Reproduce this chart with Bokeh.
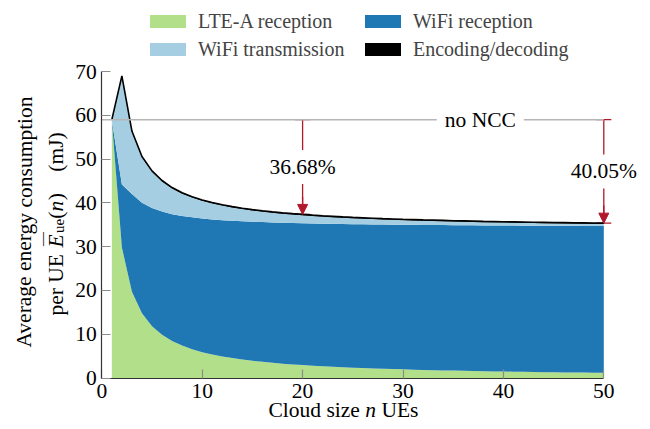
from bokeh.plotting import figure
from bokeh.models import (Range1d, ColumnDataSource, Legend, LegendItem, Label,
                          Whisker, Arrow, NormalHead, TeeHead, FixedTicker)
from bokeh.embed import file_html
from bokeh.resources import INLINE

# ---------------- data ----------------
n = list(range(1, 51))
lte_rx = [58.8, 29.8, 19.7, 14.8, 11.8, 9.85, 8.45, 7.4, 6.55, 5.9,
          5.36, 4.92, 4.54, 4.21, 3.93, 3.69, 3.47, 3.28, 3.11, 2.95,
          2.81, 2.68, 2.57, 2.46, 2.36, 2.27, 2.19, 2.11, 2.03, 1.97,
          1.9, 1.84, 1.79, 1.74, 1.69, 1.64, 1.59, 1.55, 1.51, 1.48,
          1.44, 1.4, 1.37, 1.34, 1.31, 1.28, 1.26, 1.23, 1.2, 1.18]
wifi_rx = [0.0, 14.4, 22.3, 25.2, 27.0, 28.15, 28.95, 29.6, 30.15, 30.5,
           30.84, 31.08, 31.36, 31.59, 31.77, 31.91, 32.03, 32.17, 32.29, 32.4,
           32.49, 32.57, 32.64, 32.72, 32.78, 32.84, 32.89, 32.94, 32.99, 33.03,
           33.08, 33.12, 33.15, 33.18, 33.21, 33.24, 33.28, 33.3, 33.33, 33.35,
           33.37, 33.4, 33.42, 33.44, 33.46, 33.48, 33.49, 33.51, 33.53, 33.54]
wifi_tx = [0.0, 24.6, 14.2, 10.4, 8.3, 6.9, 5.9, 5.1, 4.5, 4.07,
           3.67, 3.37, 3.04, 2.78, 2.56, 2.38, 2.24, 2.07, 1.93, 1.81,
           1.7, 1.6, 1.51, 1.42, 1.35, 1.28, 1.22, 1.16, 1.11, 1.05,
           1.0, 0.95, 0.91, 0.87, 0.83, 0.8, 0.76, 0.73, 0.7, 0.67,
           0.65, 0.62, 0.59, 0.57, 0.54, 0.52, 0.5, 0.48, 0.46, 0.45]
encoding = [0.2, 0.2, 0.2, 0.2, 0.2, 0.2, 0.2, 0.2, 0.2, 0.2,
            0.2, 0.2, 0.2, 0.2, 0.2, 0.2, 0.2, 0.2, 0.2, 0.2,
            0.2, 0.2, 0.2, 0.2, 0.2, 0.2, 0.2, 0.2, 0.2, 0.2,
            0.2, 0.2, 0.2, 0.2, 0.2, 0.2, 0.2, 0.2, 0.2, 0.2,
            0.2, 0.2, 0.2, 0.2, 0.2, 0.2, 0.2, 0.2, 0.2, 0.2]
series_names = ["LTE-A reception", "WiFi reception", "WiFi transmission", "Encoding/decoding"]
series_colors = ["#b2df8a", "#1f78b4", "#a6cee3", "#000000"]
no_ncc = 59.0
gain_n = [20, 50]
gain_text = ["36.68%", "40.05%"]
x_ticks = [0, 10, 20, 30, 40, 50]
y_ticks = [0, 10, 20, 30, 40, 50, 60, 70]

total = [a + b + c + d for a, b, c, d in zip(lte_rx, wifi_rx, wifi_tx, encoding)]

# ---------------- layout (canvas pixels) ----------------
W, H = 642, 421
FX0, FX1 = 101.3, 603.3      # pixel x of x=0 and x=50
FY0, FY1 = 377.5, 71.0       # pixel y of y=0 and y=70
FONT = "Liberation Serif"
FS = 21.5
RED = "#b2182b"
TXT_SHIFT = 8                # empirical baseline correction for Label text

xs = (FX1 - FX0) / (x_ticks[-1] - x_ticks[0])
ys = (FY0 - FY1) / (y_ticks[-1] - y_ticks[0])
x_range = Range1d(x_ticks[0] - FX0 / xs, x_ticks[-1] + (W - FX1) / xs)
y_range = Range1d(y_ticks[0] - (H - FY0) / ys, y_ticks[-1] + FY1 / ys)

p = figure(width=W, height=H, x_range=x_range, y_range=y_range,
           output_backend="svg", toolbar_location=None,
           min_border_left=0, min_border_right=0, min_border_top=0, min_border_bottom=0)
p.outline_line_color = None
p.xgrid.visible = False
p.ygrid.visible = False
p.background_fill_color = "white"

src = ColumnDataSource(dict(n=n, lte=lte_rx, wrx=wifi_rx, wtx=wifi_tx, enc=encoding, total=total))
rs = p.varea_stack(["lte", "wrx", "wtx", "enc"], x="n", color=series_colors, source=src)
p.line("n", "total", source=src, line_color="black", line_width=1.6)

# no-NCC reference line
p.segment(x0=[x_ticks[0]], x1=[x_ticks[-1]], y0=[no_ncc], y1=[no_ncc],
          line_color="#b5b5b5", line_width=1.5)

for ax, ticks in ((p.xaxis, x_ticks), (p.yaxis, y_ticks)):
    ax.fixed_location = 0
    ax.bounds = (ticks[0], ticks[-1])
    ax.ticker = FixedTicker(ticks=ticks)
    ax.major_tick_in = 9
    ax.major_tick_out = 0
    ax.minor_tick_in = 0
    ax.minor_tick_out = 0
    ax.major_tick_line_color = "#8c8c8c"
    ax.major_tick_line_width = 1.2
    ax.axis_line_color = "#333333"
    ax.axis_line_width = 1.2
    ax.major_label_text_font = FONT
    ax.major_label_text_font_size = f"{FS}px"
    ax.major_label_text_color = "black"
p.xaxis.major_label_standoff = 6
p.yaxis.major_label_standoff = 5

# whiskers + arrows
idx = [n.index(v) for v in gain_n]
wsrc = ColumnDataSource(dict(base=gain_n, upper=[no_ncc] * len(gain_n), lower=[total[i] for i in idx]))
p.add_layout(Whisker(base="base", upper="upper", lower="lower", source=wsrc, dimension="height",
                     line_color=RED, line_width=1.3,
                     upper_head=TeeHead(size=15, line_color=RED, line_width=1.3),
                     lower_head=TeeHead(size=15, line_color=RED, line_width=1.3)))
for k, i in enumerate(idx):
    g = gain_n[k]
    p.add_layout(Arrow(end=NormalHead(size=10, fill_color=RED, line_color=RED, line_width=1),
                       x_start=g, y_start=total[i] + 4, x_end=g, y_end=total[i],
                       line_color=RED, line_width=1.3))
    p.add_layout(Label(x=g, y=(no_ncc + total[i]) / 2, text=gain_text[k],
                       text_align="center", text_baseline="middle",
                       text_font=FONT, text_font_size=f"{FS}px", text_color="black",
                       background_fill_color="white", padding=5))

p.add_layout(Label(x=37.7, y=no_ncc, text="no NCC", text_align="center", text_baseline="middle",
                   text_font=FONT, text_font_size=f"{FS}px", text_color="black",
                   background_fill_color="white", padding=8))

# legend
items = [LegendItem(label=series_names[k], renderers=[rs[k]]) for k in range(4)]
leg = Legend(items=items, location=(145, H - 9.5 - 51), orientation="horizontal", ncols=2,
             label_text_font=FONT, label_text_font_size="20px",
             glyph_width=45, glyph_height=16, label_standoff=8, spacing=5, label_width=157,
             padding=0, margin=0, border_line_color=None, background_fill_alpha=0)
p.add_layout(leg, "center")

# axis labels built from pieces, positioned in canvas pixels (baseline points)
def piece(px, py, text, size=FS, style="normal", angle=0.0, align="left"):
    if angle:
        px -= TXT_SHIFT
    else:
        py -= TXT_SHIFT
    p.add_layout(Label(x=px, y=H - py, x_units="screen", y_units="screen", text=text,
                       text_font=FONT, text_font_size=f"{size}px", text_font_style=style,
                       text_align=align, text_baseline="alphabetic", angle=angle,
                       text_color="black"))

# x label: "Cloud size n UEs"
xb = 417
x0 = 268
piece(x0, xb, "Cloud size")
piece(x0 + 4.5 * FS, xb, "n", style="italic")
piece(x0 + 4.5 * FS + 0.75 * FS, xb, "UEs")

# y label line 1
A = 1.5707963
piece(32, 221.5, "Average energy consumption", angle=A, align="center")
# y label line 2: per UE E̅_ue(n)  (mJ)
b2 = 63
pos = 315
piece(b2, pos, "per UE", angle=A)
pos -= 2.86 * FS + 0.3 * FS
piece(b2, pos, "E", style="italic", angle=A)
piece(b2 - 12.8, pos - 1.5, "\u2014", size=14, angle=A)
pos -= 0.611 * FS + 1.5
piece(b2 + 3.5, pos, "ue", size=15, angle=A)
pos -= 0.944 * 15
piece(b2, pos, "(", angle=A)
pos -= 0.333 * FS
piece(b2, pos, "n", style="italic", angle=A)
pos -= 0.5 * FS + 0.5
piece(b2, pos, ")", angle=A)
pos -= 0.333 * FS + 1.0 * FS
piece(b2, pos, "(mJ)", angle=A)

open("out.html", "w").write(file_html(p, INLINE))
